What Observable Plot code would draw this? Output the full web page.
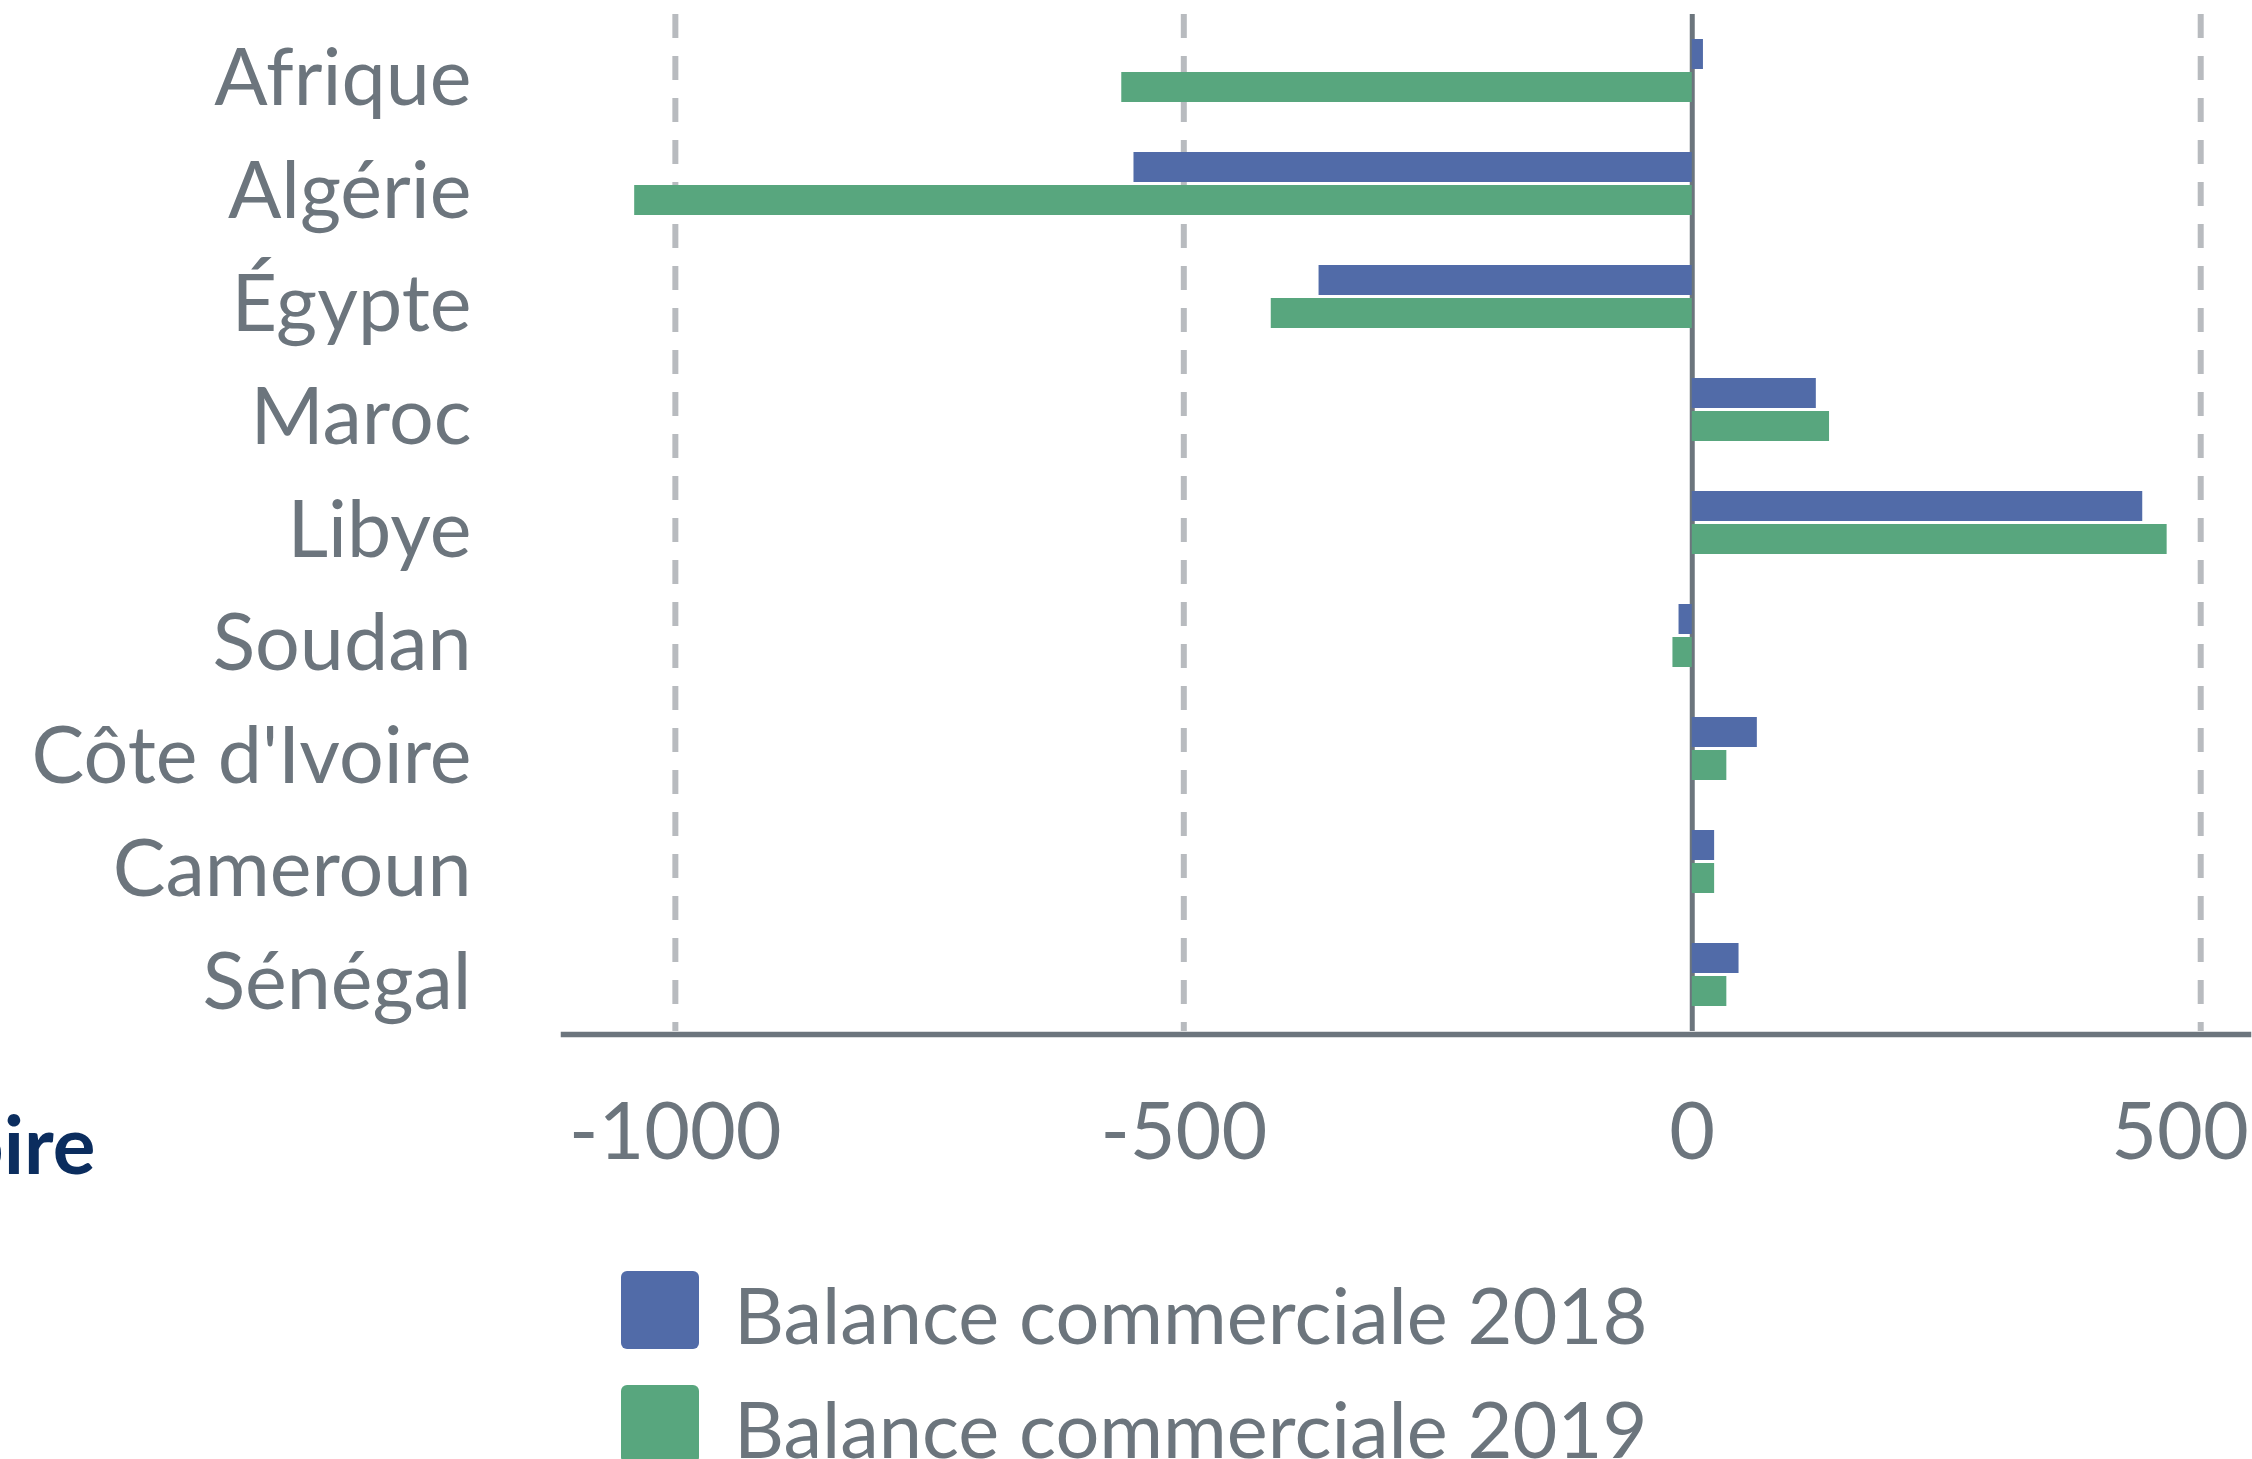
<!DOCTYPE html>
<html>
<head>
<meta charset="utf-8">
<script src="https://cdn.jsdelivr.net/npm/d3@7"></script>
<script src="https://cdn.jsdelivr.net/npm/@observablehq/plot@0.6"></script>
<style>
  html, body { margin: 0; padding: 0; background: #fff; }
  #wrap { position: relative; width: 2252px; height: 1459px; overflow: hidden; font-family: Lato, sans-serif; }
  #chart { position: absolute; left: 0; top: 0; }
  .sw { position: absolute; width: 78px; height: 78px; border-radius: 6px; }
  .lt { position: absolute; font-size: 77.5px; line-height: 77.5px; color: #6c757d; white-space: nowrap; }
</style>
</head>
<body>
<div id="wrap"><div id="chart"></div><div id="legend"></div></div>
<script>
// ---- data ----
const countries = ["Afrique", "Algérie", "Égypte", "Maroc", "Libye", "Soudan", "Côte d'Ivoire", "Cameroun", "Sénégal"];
const values2018 = [11, -549, -367, 122, 443, -13, 64, 22, 46];
const values2019 = [-561, -1040, -414, 135, 467, -19, 34, 22, 34];
const seriesNames = ["Balance commerciale 2018", "Balance commerciale 2019"];
const seriesColors = ["#516ba8", "#58a67e"];
const xTicks = [-1000, -500, 0, 500];
const yAxisTitle = "Territoire";

const rows = [];
countries.forEach((c, i) => {
  rows.push({country: c, series: seriesNames[0], value: values2018[i]});
  rows.push({country: c, series: seriesNames[1], value: values2019[i]});
});

const W = 2252, H = 1190;
const mTop = 14, mBottom = H - 1031, mLeft = 563, mRight = 4;
const step = (H - mBottom - mTop) / countries.length;
const half = step / 2;
const barH = 30, gap = 1.5;
const gray = "#6c757d";
const fmt = d => `${d}`;

const chart = Plot.plot({
  width: W,
  height: H,
  marginTop: mTop,
  marginBottom: mBottom,
  marginLeft: mLeft,
  marginRight: mRight,
  style: {fontFamily: "Lato, sans-serif", color: gray, background: "transparent", overflow: "visible"},
  x: {domain: [-1110, 547], label: null},
  y: {type: "band", domain: countries, padding: 0, label: null},
  color: {domain: seriesNames, range: seriesColors},
  marks: [
    Plot.ruleX(xTicks.filter(d => d !== 0), {stroke: "#b8bbbf", strokeWidth: 6, strokeDasharray: "24,18", dy: 0}),
    Plot.ruleX([0], {stroke: gray, strokeWidth: 5}),
    Plot.barX(rows.filter(d => d.series === seriesNames[0]), {
      x: "value", y: "country", fill: "series",
      insetTop: half - barH - gap, insetBottom: half + gap
    }),
    Plot.barX(rows.filter(d => d.series === seriesNames[1]), {
      x: "value", y: "country", fill: "series",
      insetTop: half + gap, insetBottom: half - barH - gap
    }),
    Plot.frame({anchor: "bottom", stroke: gray, strokeWidth: 5.5, dy: 3}),
    Plot.axisY({tickSize: 0, tickPadding: 92, fontSize: 79, dy: 9, color: gray, label: null}),
    Plot.axisX(xTicks.filter(d => d !== 500), {tickSize: 0, tickPadding: 71, fontSize: 79, color: gray, tickFormat: fmt, label: null}),
    Plot.axisX(xTicks.filter(d => d === 500), {tickSize: 0, tickPadding: 71, fontSize: 79, color: gray, tickFormat: fmt, textAnchor: "end", dx: 48, label: null}),
    Plot.text([yAxisTitle], {frameAnchor: "bottom-left", textAnchor: "end", dx: 95 - mLeft, dy: 142, fontSize: 80, fontWeight: "bold", fill: "#0b2d5e"})
  ]
});
document.getElementById("chart").appendChild(chart);

// ---- legend (below the SVG) ----
const color = chart.scale("color");
const legend = document.getElementById("legend");
seriesNames.forEach((name, i) => {
  const sw = document.createElement("div");
  sw.className = "sw";
  sw.style.left = "621px";
  sw.style.top = (1271 + i * 114) + "px";
  sw.style.background = color.apply(name);
  legend.appendChild(sw);
  const t = document.createElement("div");
  t.className = "lt";
  t.style.left = "734px";
  t.style.top = (1276 + i * 114) + "px";
  t.textContent = name;
  legend.appendChild(t);
});
</script>
</body>
</html>
